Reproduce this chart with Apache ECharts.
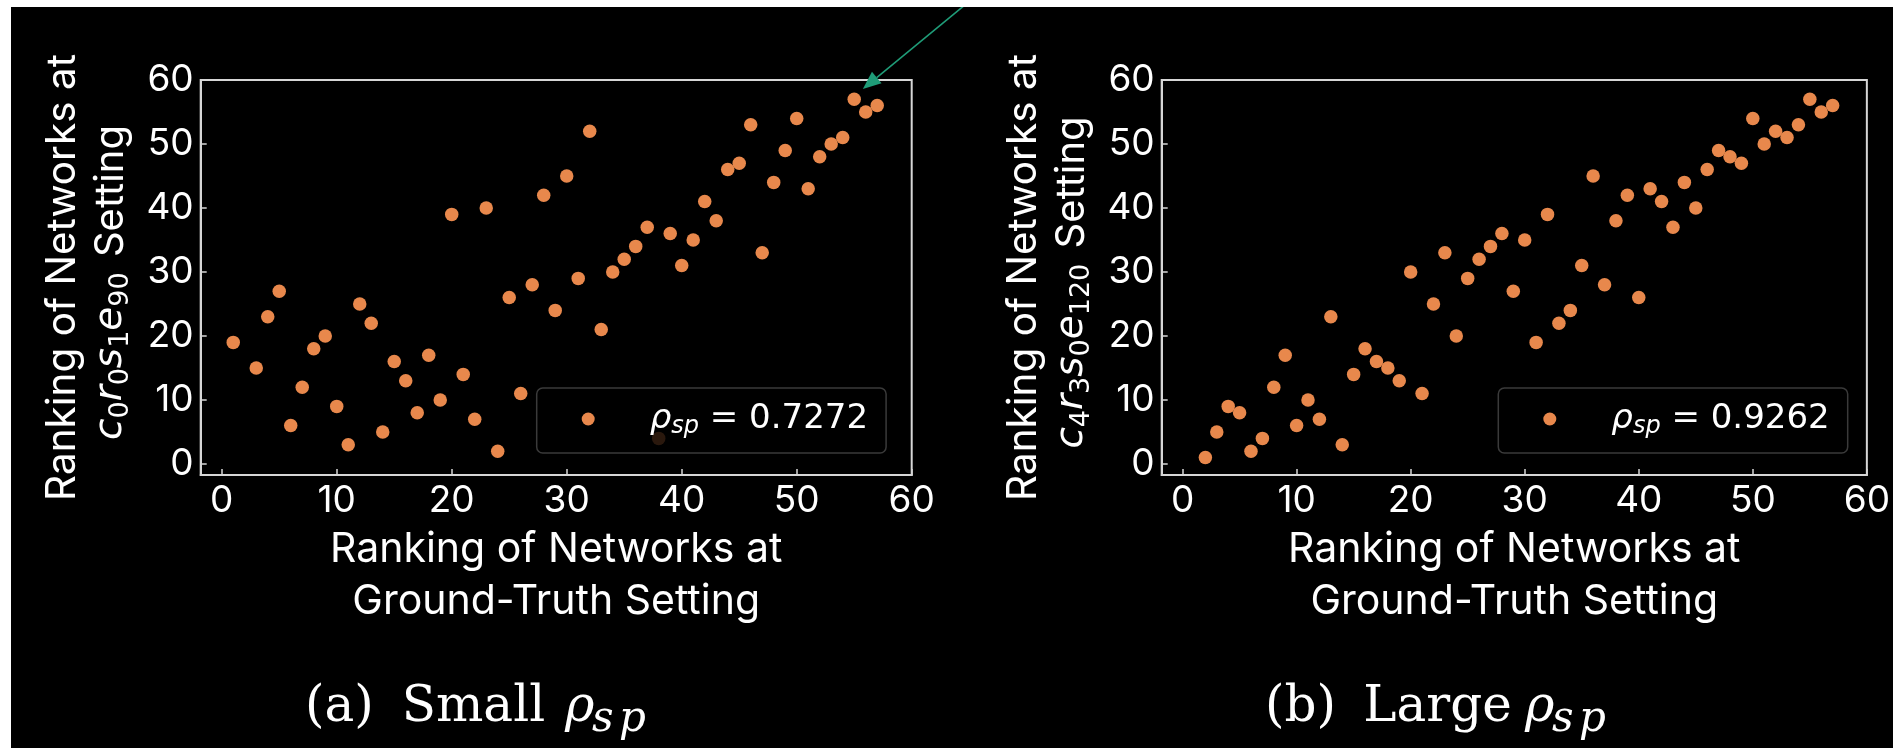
<!DOCTYPE html>
<html>
<head>
<meta charset="utf-8">
<script src="https://cdn.jsdelivr.net/npm/echarts@6/dist/echarts.min.js"></script>
<style>
html,body{margin:0;padding:0;background:#fff;}
#c{width:1893px;height:748px;}
</style>
</head>
<body>
<div id="c"></div>
<script>
// ---- data ----
const smallX = [1,3,4,5,6,7,8,9,10,11,12,13,14,15,16,17,18,19,20,21,22,23,24,25,26,27,28,29,30,31,32,33,34,35,36,37,38,39,40,41,42,43,44,45,46,47,48,49,50,51,52,53,54,55,56,57];
const smallY = [19,15,23,27,6,12,18,20,9,3,25,22,5,16,13,8,17,10,39,14,7,40,2,26,11,28,42,24,45,29,52,21,30,32,34,37,4,36,31,35,41,38,46,47,53,33,44,49,54,43,48,50,51,57,55,56];
const largeX = [2,3,4,5,6,7,8,9,10,11,12,13,14,15,16,17,18,19,20,21,22,23,24,25,26,27,28,29,30,31,32,33,34,35,36,37,38,39,40,41,42,43,44,45,46,47,48,49,50,51,52,53,54,55,56,57];
const largeY = [1,5,9,8,2,4,12,17,6,10,7,23,3,14,18,16,15,13,30,11,25,33,20,29,32,34,36,27,35,19,39,22,24,31,45,28,38,42,26,43,41,37,44,40,46,49,48,47,54,50,52,51,53,57,55,56];
const tickValues = [0,10,20,30,40,50,60];
const rhoSmall = '0.7272';
const rhoLarge = '0.9262';
const seriesNames = ['small', 'large'];
const settingSmall = ['c','0','r','0','s','1','e','90'];
const settingLarge = ['c','4','r','3','s','0','e','120'];
const xName = 'Ranking of Networks at\nGround-Truth Setting';
const yNameLine1 = 'Ranking of Networks at';
const panelTitles = [
  { tag: '(a)', word: 'Small' },
  { tag: '(b)', word: 'Large' }
];

const zip = (a, b) => a.map((v, i) => [v, b[i]]);
const rhoByName = { small: rhoSmall, large: rhoLarge };

const WHITE = '#ffffff';
const SPINE = '#d6d6d6';
const DOT = '#e8884c';
const ARROW = '#1f9c78';
const SANS = 'Inter';

function settingRich(parts) {
  let s = '';
  for (let i = 0; i < parts.length; i += 2) {
    s += '{v|' + parts[i] + '}{b|' + parts[i + 1] + '}';
  }
  return '{n|' + yNameLine1 + '}\n' + s + '{e| Setting}';
}

const nameRich = {
  n: { fontFamily: SANS, fontSize: 40.5, lineHeight: 48, color: WHITE },
  e: { fontFamily: SANS, fontSize: 40, lineHeight: 48, color: WHITE, padding: [0, 10, 0, 4] },
  v: { fontFamily: 'DejaVu Sans', fontStyle: 'italic', fontSize: 39, lineHeight: 48, color: WHITE },
  b: { fontFamily: 'DejaVu Sans', fontSize: 27, lineHeight: 28, verticalAlign: 'bottom', color: WHITE }
};

function makeX(gridIndex) {
  return {
    type: 'value', gridIndex, min: -1.83, max: 60,
    name: xName,
    nameLocation: 'middle', nameGap: 44,
    nameTextStyle: { color: WHITE, fontFamily: SANS, fontSize: 41, lineHeight: 52 },
    axisLine: { show: true, onZero: false, lineStyle: { color: SPINE, width: 2 } },
    axisTick: { show: true, inside: true, length: 6, customValues: tickValues, lineStyle: { color: SPINE, width: 1.5 } },
    axisLabel: { customValues: tickValues, color: WHITE, fontFamily: SANS, fontSize: 37, margin: 7 },
    splitLine: { show: false }
  };
}
function makeY(gridIndex, parts) {
  return {
    type: 'value', gridIndex, min: -1.72, max: 60,
    name: settingRich(parts),
    nameLocation: 'middle', nameGap: 66, nameRotate: 90,
    nameTextStyle: { color: WHITE, fontFamily: SANS, fontSize: 40.5, lineHeight: 48, rich: nameRich },
    axisLine: { show: true, onZero: false, lineStyle: { color: SPINE, width: 2 } },
    axisTick: { show: true, inside: true, length: 6, customValues: tickValues, lineStyle: { color: SPINE, width: 1.5 } },
    axisLabel: { customValues: tickValues, color: WHITE, fontFamily: SANS, fontSize: 37, margin: 7 },
    splitLine: { show: false }
  };
}
function makeLegend(name, left) {
  return {
    data: [name], left, top: 388, orient: 'horizontal', icon: 'circle',
    itemWidth: 13, itemHeight: 13, padding: [14, 18, 14, 45],
    backgroundColor: 'rgba(0,0,0,0.82)', borderColor: '#3a3a3a', borderWidth: 1.5, borderRadius: 6,
    selectedMode: false,
    formatter: n => '{g| }{r|ρ}{s|sp}{t| = ' + rhoByName[n] + '}',
    textStyle: {
      color: WHITE, fontFamily: 'DejaVu Sans', fontSize: 34,
      rich: {
        g: { width: 50, fontSize: 34, lineHeight: 40 },
        r: { fontFamily: 'DejaVu Sans', fontStyle: 'italic', fontSize: 34, lineHeight: 40, color: WHITE },
        s: { fontFamily: 'DejaVu Sans', fontStyle: 'italic', fontSize: 24, lineHeight: 26, verticalAlign: 'bottom', color: WHITE },
        t: { fontFamily: 'DejaVu Sans', fontSize: 34, lineHeight: 40, color: WHITE }
      }
    }
  };
}
// caption pieces: left x of each piece
function caption(t, x0, xWord, xRho) {
  const serif = 'DejaVu Serif';
  const main = 50, sub = 42;
  const yMain = 725 - 0.346 * main;
  const ySub = 735 - 0.346 * sub;
  const mk = (text, x, y, size, italic) => ({
    type: 'text', x, y, z: 10,
    style: { text, fill: WHITE, font: (italic ? 'italic ' : '') + size + 'px "' + serif + '"', align: 'left', verticalAlign: 'middle' }
  });
  return [
    mk(t.tag, x0, yMain, main, false),
    mk(t.word, xWord, yMain, main, false),
    mk('ρ', xRho, yMain, main, true),
    mk('s', xRho + 27, ySub, sub, true),
    mk('p', xRho + 54, ySub, sub, true)
  ];
}

const chart = echarts.init(document.getElementById('c'), null, { renderer: 'canvas' });
const option = {
  animation: false,
  backgroundColor: '#000000',
  grid: [
    { left: 200.7, top: 80, width: 711, height: 395, show: true, borderColor: SPINE, borderWidth: 2, backgroundColor: 'transparent' },
    { left: 1161.7, top: 80, width: 711.6, height: 395, show: true, borderColor: SPINE, borderWidth: 2, backgroundColor: 'transparent' }
  ],
  xAxis: [makeX(0), makeX(1)],
  yAxis: [makeY(0, settingSmall), makeY(1, settingLarge)],
  legend: [makeLegend(seriesNames[0], 536.7), makeLegend(seriesNames[1], 1498.3)],
  series: [
    { name: seriesNames[0], type: 'scatter', xAxisIndex: 0, yAxisIndex: 0, data: zip(smallX, smallY),
      symbol: 'circle', symbolSize: 13.5, itemStyle: { color: DOT, opacity: 1 }, emphasis: { disabled: true }, clip: false },
    { name: seriesNames[1], type: 'scatter', xAxisIndex: 1, yAxisIndex: 1, data: zip(largeX, largeY),
      symbol: 'circle', symbolSize: 13.5, itemStyle: { color: DOT, opacity: 1 }, emphasis: { disabled: true }, clip: false }
  ]
};
chart.setOption(option);

// annotation arrow (placed in data space of the left panel)
const tip = chart.convertToPixel({ gridIndex: 0 }, [55.75, 58.6]);
const tail = chart.convertToPixel({ gridIndex: 0 }, [66.3, 74.2]);
const dx = tail[0] - tip[0], dy = tail[1] - tip[1];
const len = Math.sqrt(dx * dx + dy * dy);
const ux = dx / len, uy = dy / len;
const headLen = 18, headHalf = 7.5;
const bx = tip[0] + ux * headLen, by = tip[1] + uy * headLen;
const p1 = [bx - uy * headHalf, by + ux * headHalf];
const p2 = [bx + uy * headHalf, by - ux * headHalf];

chart.setOption({
  graphic: [
    ...caption(panelTitles[0], 305, 401.7, 565),
    ...caption(panelTitles[1], 1265, 1363.3, 1525),
    { type: 'line', z: 20, shape: { x1: bx, y1: by, x2: tail[0], y2: tail[1] }, style: { stroke: ARROW, lineWidth: 1.6 } },
    { type: 'polygon', z: 20, shape: { points: [tip, p1, p2] }, style: { fill: ARROW } },
    { type: 'rect', z: 30, shape: { x: 0, y: 0, width: 1893, height: 7 }, style: { fill: '#ffffff' } },
    { type: 'rect', z: 30, shape: { x: 0, y: 0, width: 11, height: 748 }, style: { fill: '#ffffff' } }
  ]
});
</script>
</body>
</html>
